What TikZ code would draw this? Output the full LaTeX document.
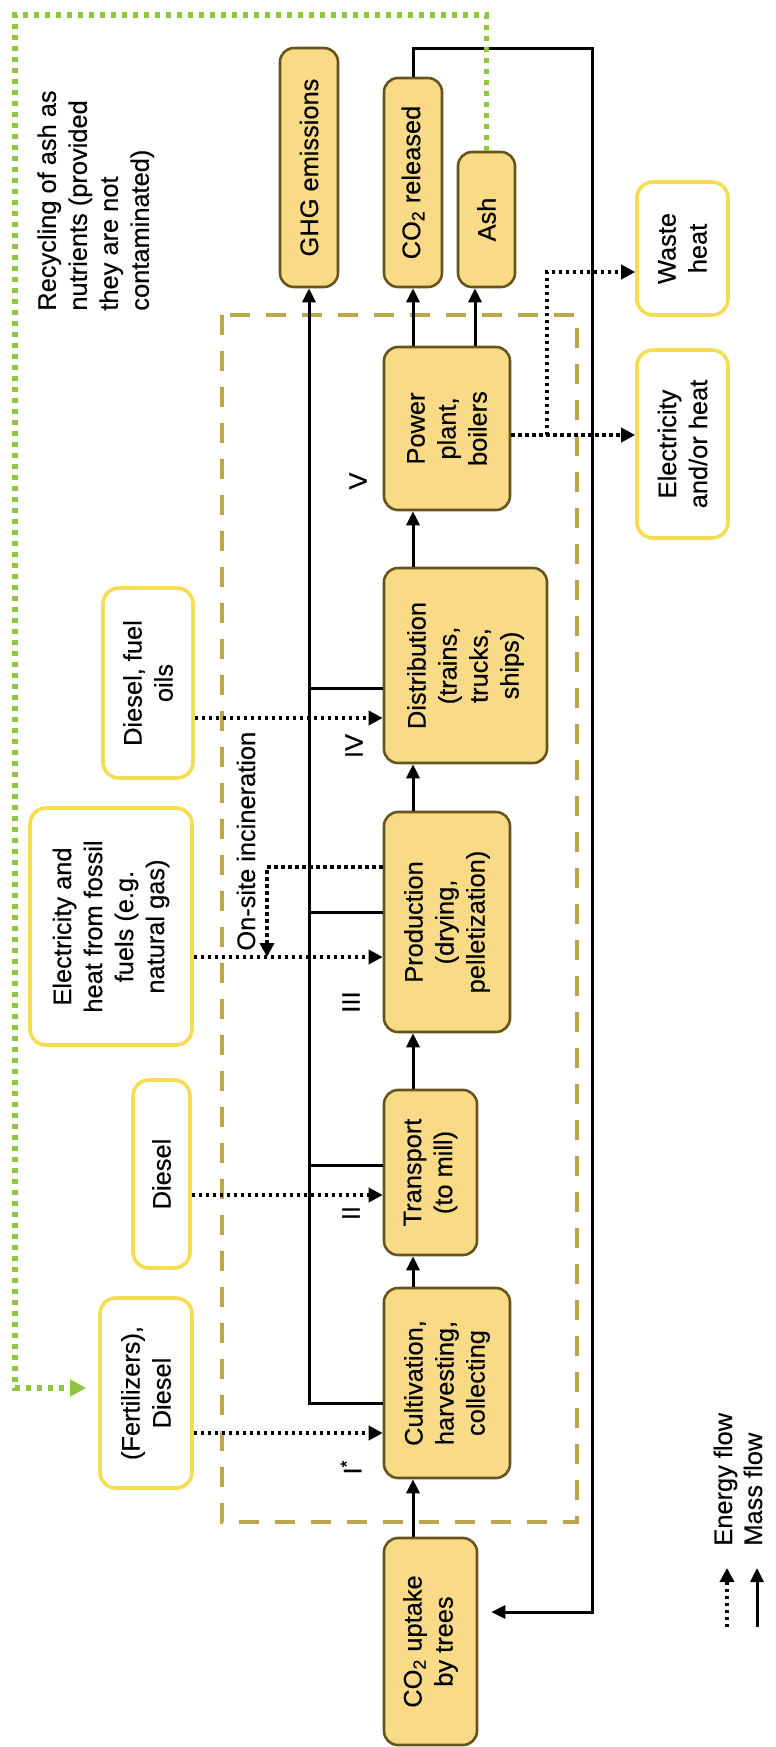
\documentclass[tikz,border=0pt]{standalone}
\usepackage{fontspec}
\setmainfont{Liberation Sans}[FakeBold=0.35]
\usetikzlibrary{arrows.meta}
\definecolor{procfill}{HTML}{F9DA86}
\definecolor{procdraw}{HTML}{65541C}
\definecolor{inpdraw}{HTML}{F6DC52}
\definecolor{sysdash}{HTML}{BCA84A}
\definecolor{recgreen}{HTML}{8CC63F}
\newcommand\diafont{\fontsize{12.7pt}{15.5pt}\selectfont}
\tikzset{
  every node/.style={font=\diafont},
  proc/.style={draw=procdraw, fill=procfill, line width=1.3pt, rounded corners=7pt, rotate=90, align=center, inner sep=2pt},
  inp/.style={draw=inpdraw, fill=white, line width=1.8pt, rounded corners=8pt, rotate=90, align=center, inner sep=2pt},
  txt/.style={rotate=90, inner sep=0pt},
  mass/.style={line width=1.5pt, -{Triangle[length=7pt,width=6.5pt]}},
  massline/.style={line width=1.5pt},
  energy/.style={line width=1.8pt, dash pattern=on 1.7pt off 1.8pt, -{Triangle[length=7pt,width=7pt]}},
  recyc/.style={draw=recgreen, line width=2.6pt, dash pattern=on 2.6pt off 2.9pt, -{Triangle[length=8pt,width=8pt]}},
  sysbox/.style={draw=sysdash, line width=2pt, dash pattern=on 10pt off 8pt}
}
\begin{document}
\begin{tikzpicture}[x=0.5pt,y=-0.5pt]
\useasboundingbox (0,0) rectangle (776,1747);

% system boundary
\draw[sysbox] (222,315) rectangle (577,1522);

% process boxes
\node[proc, minimum width=119.5pt, minimum height=29pt] (ghg) at (309,167.5) {GHG emissions};
\node[proc, minimum width=104.5pt, minimum height=29pt] (co2r) at (413,182.5) {CO\textsubscript{2} released};
\node[proc, minimum width=67.5pt, minimum height=28.5pt] (ash) at (486.5,219.5) {Ash};
\node[proc, minimum width=81.5pt, minimum height=63pt] (pp) at (447,428.5) {Power\\plant,\\boilers};
\node[proc, minimum width=97.5pt, minimum height=81.5pt] (dist) at (465.5,665.5) {Distribution\\(trains,\\trucks,\\ships)};
\node[proc, minimum width=110pt, minimum height=63pt] (prod) at (447,922) {Production\\(drying,\\pelletization)};
\node[proc, minimum width=82.5pt, minimum height=46.5pt] (trans) at (430.5,1172.5) {Transport\\(to mill)};
\node[proc, minimum width=95pt, minimum height=63pt] (cult) at (447,1383) {Cultivation,\\harvesting,\\collecting};
\node[proc, minimum width=103.5pt, minimum height=46.5pt] (up) at (430.5,1641.5) {CO\textsubscript{2} uptake\\by trees};

% input / output boxes
\node[inp, minimum width=66.5pt, minimum height=45.5pt] (waste) at (682.5,248.5) {Waste\\heat};
\node[inp, minimum width=94pt, minimum height=45.5pt] (elec) at (682.5,444) {Electricity\\and/or heat};
\node[inp, minimum width=95pt, minimum height=46pt] (fert) at (146,1393) {(Fertilizers),\\Diesel};
\node[inp, minimum width=94pt, minimum height=28.5pt] (dsl) at (161.5,1174) {Diesel};
\node[inp, minimum width=118.5pt, minimum height=81pt] (elin) at (111,926.5) {Electricity and\\heat from fossil\\fuels (e.g.\\natural gas)};
\node[inp, minimum width=95pt, minimum height=45pt] (dfo) at (148,683) {Diesel, fuel\\oils};

% free texts
\node[txt, anchor=north west, align=left] (recy) at (37,311) {Recycling of ash as\\nutrients (provided\\they are not\\contaminated)};
\node[txt, anchor=base west] (onsite) at (255,951) {On-site incineration};
\node[txt] (l5) at (358,481) {V};
\node[txt] (l4) at (354,746) {IV};
\node[txt] (l3) at (351,1002) {III};
\node[txt] (l2) at (351,1213) {II};
\node[txt] (l1) at (351,1467) {I\textsuperscript{*}};

% helper coordinates
\coordinate (M) at (309,0);
\coordinate (A) at (413,0);
\coordinate (B) at (475,0);
\coordinate (R) at (592,0);
\coordinate (IX) at (267,0);
\coordinate (WX) at (547,0);
\coordinate (GX) at (15,0);
\coordinate (e1) at (0,1433);
\coordinate (e2) at (0,1195);
\coordinate (e3) at (0,957);
\coordinate (e4) at (0,718);
\coordinate (e5) at (0,435);
\coordinate (g1) at (0,1403);
\coordinate (g2) at (0,1165);
\coordinate (g3) at (0,912);
\coordinate (g4) at (0,688);
\coordinate (inc) at (0,867);
\coordinate (wy) at (0,272);
\coordinate (yt) at (0,48);
\coordinate (yr) at (0,1612);
\coordinate (gy) at (0,15);
\coordinate (gy2) at (0,1388);

% mass chain
\draw[mass] (A |- up.east) -- (A |- cult.west);
\draw[mass] (A |- cult.east) -- (A |- trans.west);
\draw[mass] (A |- trans.east) -- (A |- prod.west);
\draw[mass] (A |- prod.east) -- (A |- dist.west);
\draw[mass] (A |- dist.east) -- (A |- pp.west);
\draw[mass] (A |- pp.east) -- (A |- co2r.west);
\draw[mass] (B |- pp.east) -- (B |- ash.west);

% emissions collector
\draw[mass] (cult.north |- g1) -- (M |- g1) -- (ghg.west);
\draw[massline] (trans.north |- g2) -- (M |- g2);
\draw[massline] (prod.north |- g3) -- (M |- g3);
\draw[massline] (dist.north |- g4) -- (M |- g4);

% CO2 return loop
\draw[mass, shorten >=6.5pt] (co2r.east) -- (co2r.east |- yt) -- (R |- yt) -- (R |- yr) -- (up.south |- yr);

% energy inputs
\draw[energy] (fert.south |- e1) -- (cult.north |- e1);
\draw[energy] (dsl.south |- e2) -- (trans.north |- e2);
\draw[energy] (elin.south |- e3) -- (prod.north |- e3);
\draw[energy] (dfo.south |- e4) -- (dist.north |- e4);
\draw[energy] (prod.north |- inc) -- (IX |- inc) -- (IX |- e3);

% energy outputs
\draw[energy] (pp.south |- e5) -- (elec.north |- e5);
\draw[energy] (WX |- e5) -- (WX |- wy) -- (waste.north |- wy);

% ash recycling
\draw[recyc, shorten >=6pt] (ash.east) -- (ash.east |- gy) -- (GX |- gy) -- (GX |- gy2) -- (fert.north |- gy2);

% legend
\coordinate (la1) at (727,1627);
\coordinate (la2) at (727,1568);
\coordinate (lb1) at (757,1627);
\coordinate (lb2) at (757,1568);
\draw[energy] (la1) -- (la2);
\draw[mass] (lb1) -- (lb2);
\node[txt, anchor=base west] (lgE) at (732,1546) {Energy flow};
\node[txt, anchor=base west] (lgM) at (762,1546) {Mass flow};
\end{tikzpicture}
\end{document}
